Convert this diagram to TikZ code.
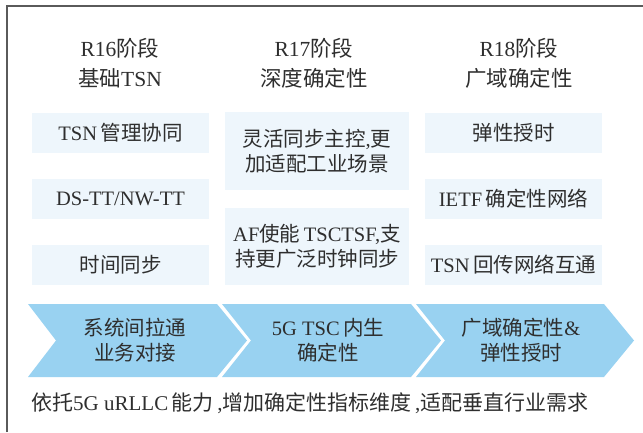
\documentclass[tikz,border=0pt]{standalone}
\usepackage{fontspec}
\setmainfont{Liberation Serif}
\newfontfamily\cjk{Noto Sans CJK SC}
\newcommand{\C}[1]{{\cjk #1}}
\definecolor{txt}{HTML}{2E2E2E}
\definecolor{boxfill}{HTML}{EEF6FC}
\definecolor{chevfill}{HTML}{99D2F1}
\definecolor{framecol}{HTML}{5A5A5A}
\tikzset{
  every node/.style={text=txt, font=\fontsize{20.5}{25}\selectfont, inner sep=0pt, align=center},
  head/.style={font=\fontsize{21.5}{30}\selectfont},
  cbox/.style={fill=boxfill, minimum width=177pt, minimum height=40pt},
  wbox/.style={fill=boxfill, minimum width=184pt},
  chev/.style={fill=chevfill},
  frame/.style={draw=framecol, line width=1.5pt}
}
\begin{document}
\begin{tikzpicture}[x=1pt,y=-1pt]
\useasboundingbox (0,0) rectangle (643,432);
\draw[frame] (7,432) -- (7,6) -- (643,6);

% headers
\node[head] (h1) at (120,63) {R16\C{阶段}\\\C{基础}TSN};
\node[head] (h2) at (314,63) {R17\C{阶段}\\\C{深度确定性}};
\node[head] (h3) at (519,63) {R18\C{阶段}\\\C{广域确定性}};

% column 1
\node[cbox] (a1) at (120.5,133) {TSN\,\C{管理协同}};
\node[cbox] (a2) at (120.5,199) {DS-TT/NW-TT};
\node[cbox] (a3) at (120.5,264.5) {\C{时间同步}};

% column 2
\node[wbox, minimum height=78pt] (b1) at (317,151) {\C{灵活同步主控},\C{更}\\\C{加适配工业场景}};
\node[wbox, minimum height=77pt] (b2) at (317,246.5) {AF\C{使能}\,TSCTSF,\C{支}\\\C{持更广泛时钟同步}};

% column 3
\node[cbox] (c1) at (513.5,133) {\C{弹性授时}};
\node[cbox] (c2) at (513.5,199) {IETF\,\C{确定性网络}};
\node[cbox] (c3) at (513.5,264.5) {TSN\,\C{回传网络互通}};

% chevrons
\fill[chev] (28,304) -- ++(189,0) -- ++(30,36.5) -- ++(-30,36.5) -- ++(-189,0) -- ++(28,-36.5) -- cycle;
\fill[chev] (222,304) -- ++(189,0) -- ++(30,36.5) -- ++(-30,36.5) -- ++(-189,0) -- ++(29,-36.5) -- cycle;
\fill[chev] (416,304) -- ++(188,0) -- ++(30,36.5) -- ++(-30,36.5) -- ++(-188,0) -- ++(29,-36.5) -- cycle;

\node (d1) at (135,340.5) {\C{系统间拉通}\\\C{业务对接}};
\node (d2) at (328,340.5) {5G TSC\,\C{内生}\\\C{确定性}};
\node (d3) at (521,340.5) {\C{广域确定性}\&\\\C{弹性授时}};

% bottom line
\node[anchor=west, font=\fontsize{21}{25}\selectfont] (e) at (31,403) {\C{依托}5G uRLLC\,\C{能力}\,,\C{增加确定性指标维度}\,,\C{适配垂直行业需求}};
\end{tikzpicture}
\end{document}
